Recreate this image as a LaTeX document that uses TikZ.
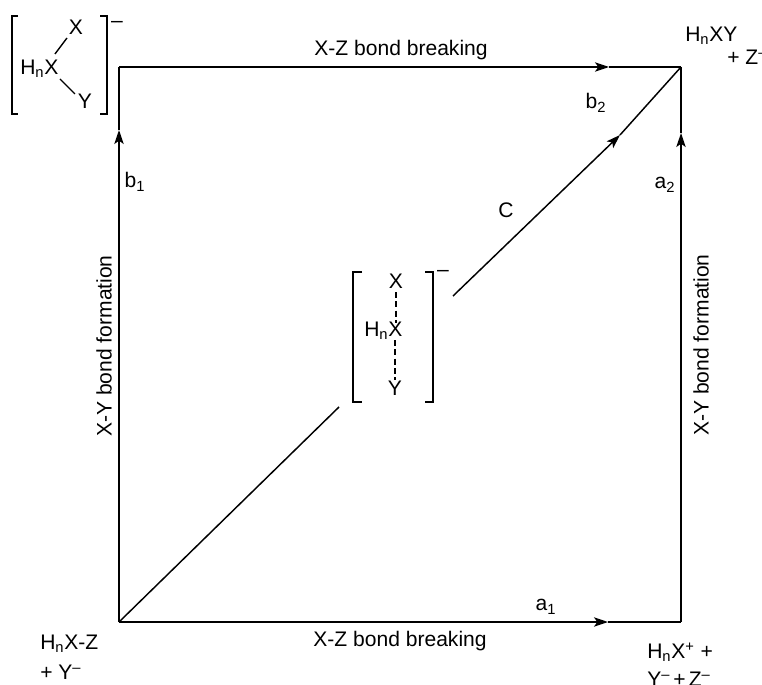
\documentclass[tikz,border=0pt]{standalone}
\usepackage{fontspec}
\setmainfont{Liberation Sans}
\usetikzlibrary{arrows.meta}
\newcommand{\Hn}{H\textsubscript{n}}
\newcommand{\chgminus}{\textsuperscript{--}}
\tikzset{
	lab/.style={inner sep=0pt,text=black,font=\fontsize{15.8}{18}\selectfont},
	edge/.style={draw=black,line width=1.25pt},
	edgetip/.style={edge,-{Stealth[length=10.5pt,width=7pt,inset=2.5pt]}},
	bond/.style={draw=black,line width=1.05pt},
	brack/.style={draw=black,line width=1.1pt}
}
\begin{document}
\begin{tikzpicture}[x=0.75pt,y=-0.75pt]
\useasboundingbox (0,0) rectangle (762,684);
% corners of the square
\coordinate (bl) at (119,622);
\coordinate (tl) at (119,67);
\coordinate (tr) at (681,67);
\coordinate (br) at (681,622);
\coordinate (topTip) at (609,67);
\coordinate (botTip) at (608,622);
\coordinate (leftTip) at (119,130);
\coordinate (rightTip) at (681,133);
\coordinate (diagLow) at (339,407);
\coordinate (diagHigh) at (453,296);
\coordinate (diagTip) at (620,135);

\draw[edgetip] (tl) -- (topTip);
\draw[edge] (topTip) -- (tr);
\draw[edgetip] (bl) -- (botTip);
\draw[edge] (botTip) -- (br);
\draw[edgetip] (bl) -- (leftTip);
\draw[edge] (leftTip) -- (tl);
\draw[edgetip] (br) -- (rightTip);
\draw[edge] (rightTip) -- (tr);
\draw[edge,line width=1.1pt] (bl) -- (diagLow);
\draw[edgetip,line width=1.1pt] (diagHigh) -- (diagTip);
\draw[edge,line width=1.1pt] (diagTip) -- (tr);

% edge labels
\node[lab] (topLab) at (401,50) {X-Z bond breaking};
\node[lab] (botLab) at (400,641) {X-Z bond breaking};
\node[lab,rotate=90] (leftLab) at (104,346) {X-Y bond formation};
\node[lab,rotate=90] (rightLab) at (701,345) {X-Y bond formation};
\foreach \name/\txt/\xx/\yy in {
	aOne/a\textsubscript{1}/546/607,
	aTwo/a\textsubscript{2}/665/185,
	bOne/b\textsubscript{1}/135/182,
	bTwo/b\textsubscript{2}/596/103,
	cLab/C/506/210
} {
	\node[lab] (\name) at (\xx,\yy) {\txt};
}

% species at the corners
\node[lab,anchor=west] (prodA) at (685,36) {\Hn XY};
\node[lab,anchor=west] (prodB) at (727,57) {+ Z\chgminus};
\node[lab,anchor=west] (startA) at (40,644) {\Hn X-Z};
\node[lab,anchor=west] (startB) at (40,672) {+ Y\chgminus};
\node[lab,anchor=west] (ionA) at (647,652) {\Hn X\textsuperscript{+} +};
\node[lab,anchor=west] (ionB) at (647,679) {Y\chgminus\hspace{.15em}+\hspace{.15em}Z\chgminus};

% upper left complex
\draw[brack] (18,16) -- (12,16) -- (12,114) -- (18,114);
\draw[brack] (100,16) -- (107,16) -- (107,114) -- (100,114);
\node[lab] (cornerMinus) at (117,24) {--};
\node[lab] (cornerX) at (76,27) {X};
\node[lab,anchor=west] (cornerC) at (20,69) {\Hn X};
\node[lab] (cornerY) at (85,101) {Y};
\coordinate (bondA) at (55,54);
\coordinate (bondB) at (67,38);
\coordinate (bondC) at (60,79);
\coordinate (bondD) at (75,94);
\draw[bond] (bondA) -- (bondB);
\draw[bond] (bondC) -- (bondD);

% central complex
\draw[brack] (362,272) -- (353,272) -- (353,402) -- (362,402);
\draw[brack] (425,272) -- (433,272) -- (433,402) -- (425,402);
\node[lab] (midMinus) at (443,273) {--};
\node[lab] (midX) at (396,281) {X};
\node[lab,anchor=west] (midC) at (364,331) {\Hn X};
\node[lab] (midY) at (395,388) {Y};
\coordinate (dashA) at (396,292);
\coordinate (dashB) at (396,323);
\coordinate (dashC) at (395,340);
\coordinate (dashD) at (395,380);
\draw[bond,dashed,dash pattern=on 4.5pt off 2.5pt] (dashA) -- (dashB);
\draw[bond,dashed,dash pattern=on 4.5pt off 2.5pt] (dashC) -- (dashD);
\end{tikzpicture}
\end{document}
